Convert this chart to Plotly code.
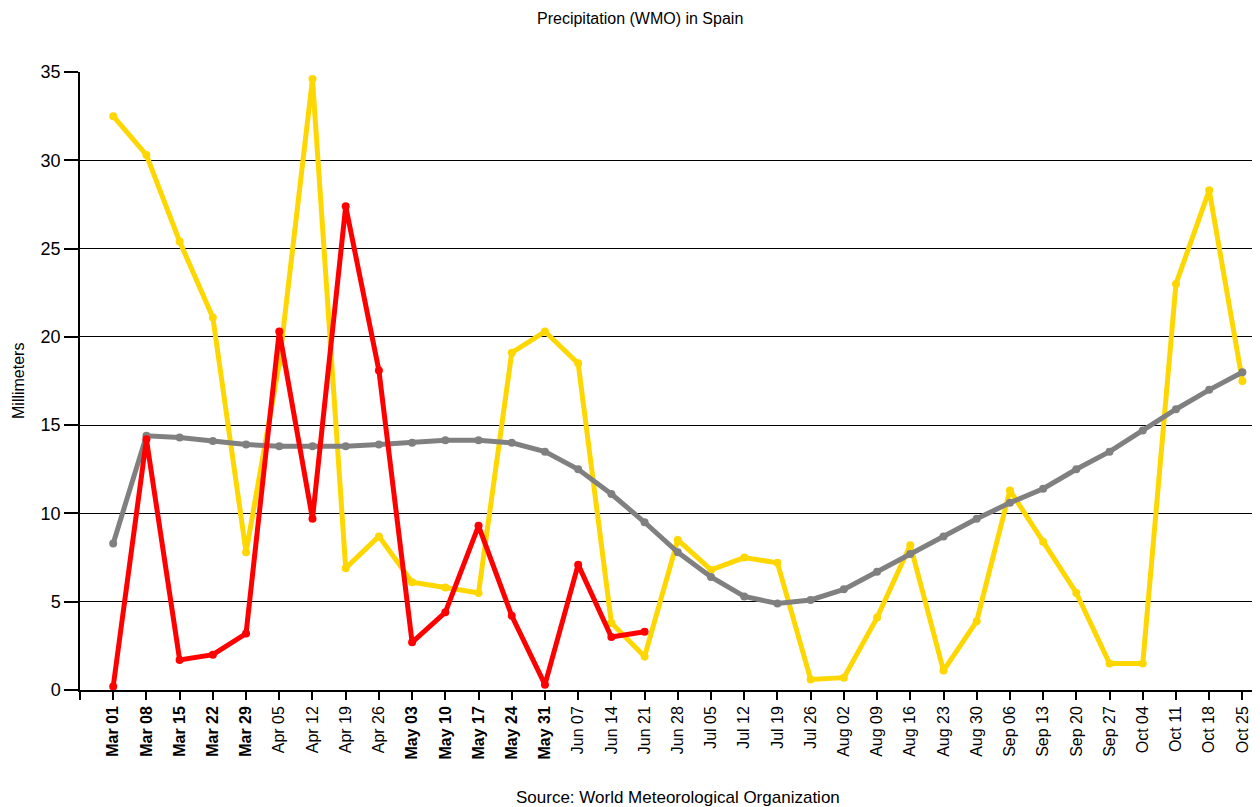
import plotly.graph_objects as go

weeks = ["Mar 01", "Mar 08", "Mar 15", "Mar 22", "Mar 29", "Apr 05", "Apr 12", "Apr 19", "Apr 26",
         "May 03", "May 10", "May 17", "May 24", "May 31", "Jun 07", "Jun 14", "Jun 21", "Jun 28",
         "Jul 05", "Jul 12", "Jul 19", "Jul 26", "Aug 02", "Aug 09", "Aug 16", "Aug 23", "Aug 30",
         "Sep 06", "Sep 13", "Sep 20", "Sep 27", "Oct 04", "Oct 11", "Oct 18", "Oct 25"]

yellow_vals = [32.5, 30.3, 25.4, 21.1, 7.8, 18.5, 34.6, 6.9, 8.7, 6.1, 5.8, 5.5, 19.1, 20.3, 18.5,
               3.8, 1.9, 8.5, 6.8, 7.5, 7.2, 0.6, 0.7, 4.1, 8.2, 1.1, 3.9, 11.3, 8.4, 5.5, 1.5,
               1.5, 23.0, 28.3, 17.5]

red_vals = [0.2, 14.2, 1.7, 2.0, 3.2, 20.3, 9.7, 27.4, 18.1, 2.7, 4.4, 9.3, 4.2, 0.3, 7.1, 3.0, 3.3]

gray_vals = [8.3, 14.4, 14.3, 14.1, 13.9, 13.8, 13.8, 13.8, 13.9, 14.0, 14.15, 14.15, 14.0, 13.5,
             12.5, 11.1, 9.5, 7.8, 6.4, 5.3, 4.9, 5.1, 5.7, 6.7, 7.7, 8.7, 9.7, 10.6, 11.4, 12.5,
             13.5, 14.7, 15.9, 17.0, 18.0]

bold_months = ("Mar", "May")

x_idx = list(range(len(weeks)))
tick_text = [("<b>%s</b>" % w) if w.split()[0] in bold_months else w for w in weeks]

fig = go.Figure()
fig.add_trace(go.Scatter(x=x_idx, y=yellow_vals, mode="lines+markers",
                         line=dict(color="#FFD700", width=5), marker=dict(size=8, color="#FFD700"),
                         showlegend=False))
fig.add_trace(go.Scatter(x=x_idx, y=gray_vals, mode="lines+markers",
                         line=dict(color="#808080", width=5), marker=dict(size=8, color="#808080"),
                         showlegend=False))
fig.add_trace(go.Scatter(x=x_idx[:len(red_vals)], y=red_vals, mode="lines+markers",
                         line=dict(color="#FF0000", width=5), marker=dict(size=8, color="#FF0000"),
                         showlegend=False))

fig.update_layout(
    width=1252, height=799,
    margin=dict(l=72, r=0, t=64, b=117),
    paper_bgcolor="white", plot_bgcolor="white",
    font=dict(family="Liberation Sans, Arial, sans-serif", color="black"),
    xaxis=dict(range=[-1, 34.53], tickmode="array", tickvals=[-1] + x_idx, ticktext=[""] + tick_text,
               tickangle=-90, ticks="outside", ticklen=8, tickcolor="black", tickwidth=1.5,
               showline=True, linecolor="black", linewidth=1.5, showgrid=False, zeroline=False,
               tickfont=dict(size=16, color="black")),
    yaxis=dict(range=[0, 35], tickvals=[0, 5, 10, 15, 20, 25, 30, 35], ticks="outside", ticklen=14,
               tickcolor="black", tickwidth=1.5, showline=True, linecolor="black", linewidth=1.5,
               showgrid=True, gridcolor="black", gridwidth=1.2, zeroline=False,
               tickfont=dict(size=18, color="black")),
)

fig.add_annotation(text="Precipitation (WMO) in Spain", xref="paper", yref="paper",
                   x=(640 - 80) / 1180, y=682 / 618, xanchor="center", yanchor="top",
                   showarrow=False, font=dict(size=16, color="black"))

fig.add_annotation(text="Millimeters", xref="paper", yref="paper", textangle=-90,
                   x=(18 - 80) / 1180, y=(690 - 381) / 618, xanchor="center", yanchor="middle",
                   showarrow=False, font=dict(size=16, color="black"))

fig.add_annotation(text="Source: World Meteorological Organization", xref="paper", yref="paper",
                   x=(678 - 80) / 1180, y=-(797 - 690) / 618, xanchor="center", yanchor="middle",
                   showarrow=False, font=dict(size=17, color="black"))

fig.write_html("out.html")
